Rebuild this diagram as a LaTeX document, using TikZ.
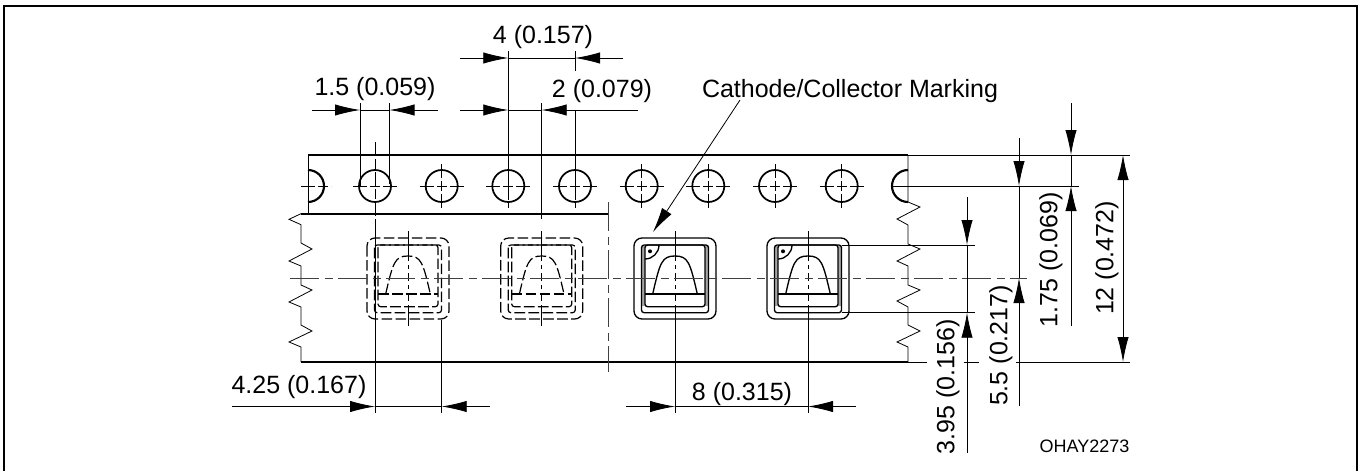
\documentclass[tikz,border=0pt]{standalone}
\usepackage{fontspec}
\setmainfont{Liberation Sans}
\usetikzlibrary{arrows.meta}

\tikzset{
	dimline/.style={line width=.6pt},
	dimarrow/.style={line width=.6pt,->,>={Latex[length=18.75pt,width=8.5pt]}},
	tapeline/.style={line width=1.4pt},
	midline/.style={line width=.7pt,color=black!75,dash pattern=on 22pt off 4pt on 6pt off 4pt},
	holeline/.style={line width=.6pt,dash pattern=on 10.5pt off 2.25pt on 7.5pt off 2.25pt},
	hole/.style={circle,draw,line width=1.3pt,inner sep=0pt,minimum size=24pt},
	label/.style={font=\fontsize{18.75}{22}\selectfont,inner sep=0pt},
	smalllabel/.style={font=\fontsize{13.5}{16}\selectfont,inner sep=0pt},
	hidden/.style={line width=.9pt,dash pattern=on 8pt off 2.5pt},
	shown/.style={line width=1pt}
}

% one pocket of the tape, #1 = centre x, #2 = line style
\newcommand{\pocket}[2]{
	\begin{scope}[shift={(#1,0)}]
		\draw[#2,rounded corners=6pt] (-41,238) rectangle (41,319);
		\draw[#2,rounded corners=2pt] (-33.5,245) rectangle (33.5,312.7);
		\draw[#2,rounded corners=2pt] (-30,245) rectangle (30,306.7);
		\draw[#2] (-30,294) -- (30,294);
		\draw[#2] (-22.3,294) .. controls (-15,262) and (-13,256) .. (0,256) .. controls (13,256) and (15,262) .. (22.3,294);
		\draw[dimline] (0,231) -- (0,253);
		\draw[dimline,dash pattern=on 6pt off 3pt on 3pt off 3pt] (0,253) -- (0,305);
	\end{scope}
}
% corner mark and side bands of the pockets seen from above
\newcommand{\pocketmark}[1]{
	\begin{scope}[shift={(#1,0)}]
		\fill[gray!70] (-33.5,246) rectangle (-30,306);
		\fill[gray!70] (30,246) rectangle (33.5,306);
		\draw[shown] (-16,245) arc (0:90:14);
		\fill (-25,251.3) circle (1.5pt);
	\end{scope}
}

\begin{document}
\begin{tikzpicture}[x=.75pt,y=-.75pt]
	\useasboundingbox (0,0) rectangle (1363,471);
	\draw[line width=1.5pt] (4.3,471) -- (4.3,5.8) -- (1356.7,5.8) -- (1356.7,471);

	% tape outline
	\draw[tapeline] (308,155) -- (908,155);
	\draw[tapeline] (301,213.7) -- (608,213.7);
	\draw[tapeline] (301,362) -- (908,362);
	\draw[dimline] (308,155) -- (308,213.7);
	\draw[dimline] (301,213.7) -- (289,219.3) -- (301,224.7) -- (301,243) -- (312,249) -- (289,261) -- (301,266) -- (301,285) -- (312,290) -- (289,302) -- (301,307) -- (301,325) -- (312,331) -- (289,342) -- (301,347) -- (301,362);
	\draw[dimline] (908,155) -- (908,202) -- (920,207) -- (897,219) -- (908,225) -- (908,244) -- (920,249) -- (897,261) -- (908,266) -- (908,285) -- (920,290) -- (897,301) -- (908,307) -- (908,325) -- (920,331) -- (897,342) -- (908,347) -- (908,362);

	% sprocket holes
	\node[hole](h1) at (375,186) {};
	\node[hole](h2) at (441.7,186) {};
	\node[hole](h3) at (508.3,186) {};
	\node[hole](h4) at (575,186) {};
	\node[hole](h5) at (641.7,186) {};
	\node[hole](h6) at (708.3,186) {};
	\node[hole](h7) at (775,186) {};
	\node[hole](h8) at (841.7,186) {};
	\draw[line width=1.6pt] (308,170) arc (-90:90:16);
	\draw[line width=1.6pt] (908,170) arc (-90:-270:16);

	\draw[holeline] (301,186) -- (331,186);
	\draw[holeline] (353,186) -- (397,186);
	\draw[holeline] (419.7,186) -- (463.7,186);
	\draw[holeline] (486.3,186) -- (530.3,186);
	\draw[holeline] (553,186) -- (597,186);
	\draw[holeline] (619.7,186) -- (663.7,186);
	\draw[holeline] (686.3,186) -- (730.3,186);
	\draw[holeline] (753,186) -- (797,186);
	\draw[holeline] (819.7,186) -- (863.7,186);
	\draw[holeline] (441.7,164) -- (441.7,208);
	\draw[holeline] (508.3,186) -- (508.3,208);
	\draw[holeline] (575,186) -- (575,208);
	\draw[holeline] (641.7,164) -- (641.7,208);
	\draw[holeline] (708.3,164) -- (708.3,208);
	\draw[holeline] (775,164) -- (775,208);
	\draw[holeline] (841.7,164) -- (841.7,208);

	% pockets
	\pocket{408}{hidden}
	\pocket{541.7}{hidden}
	\pocketmark{675}
	\pocket{675}{shown}
	\pocketmark{808}
	\pocket{808}{shown}
	\draw[dimline] (408,305) -- (408,326);
	\draw[dimline] (541.7,305) -- (541.7,326);

	% centre lines
	\draw[midline] (290,278) -- (1027,278);
	\draw[midline] (608,202) -- (608,372);
	\draw[holeline] (375,142) -- (375,227);

	% 1.5 (0.059)
	\coordinate(a1) at (360,110);
	\coordinate(a2) at (389.5,110);
	\coordinate(a3) at (312,110);
	\coordinate(a4) at (438,110);
	\draw[dimline] (360,103) -- (360,186);
	\draw[dimline] (389.5,103) -- (389.5,184);
	\draw[dimarrow] (a3) -- (a1);
	\draw[dimarrow] (a4) -- (a2);
	\draw[dimline] (a1) -- (a2);
	\node[label](t1) at (375,89) {1.5 (0.059)};

	% 4 (0.157)
	\coordinate(b1) at (508.3,58);
	\coordinate(b2) at (575,58);
	\coordinate(b3) at (460,58);
	\coordinate(b4) at (623,58);
	\draw[dimline] (508.3,51) -- (h3.center);
	\draw[dimline] (575,51) -- (575,71);
	\draw[dimarrow] (b3) -- (b1);
	\draw[dimarrow] (b4) -- (b2);
	\draw[dimline] (b1) -- (b2);
	\node[label](t2) at (543,37) {4 (0.157)};

	% 2 (0.079)
	\coordinate(c1) at (508.3,110);
	\coordinate(c2) at (541.7,110);
	\coordinate(c3) at (460,110);
	\coordinate(c4) at (638,110);
	\draw[dimline] (541.7,103) -- (541.7,219);
	\draw[dimline] (575,110) -- (h4.center);
	\draw[dimarrow] (c3) -- (c1);
	\draw[dimarrow] (c4) -- (c2);
	\draw[dimline] (c1) -- (c2);
	\node[label](t3) at (602,91) {2 (0.079)};

	% marking
	\node[label](t4) at (850,91) {Cathode/Collector Marking};
	\coordinate(m1) at (740,100);
	\coordinate(m2) at (653,232);
	\draw[dimarrow] (m1) -- (m2);

	% 4.25 (0.167)
	\coordinate(d1) at (375,406.5);
	\coordinate(d2) at (441.7,406.5);
	\coordinate(d3) at (232,406.5);
	\coordinate(d4) at (490,406.5);
	\draw[dimline] (375,227) -- (375,413);
	\draw[dimline] (441.7,320) -- (441.7,413);
	\draw[dimarrow] (d3) -- (d1);
	\draw[dimarrow] (d4) -- (d2);
	\draw[dimline] (d1) -- (d2);
	\node[label](t5) at (299,387) {4.25 (0.167)};

	% 8 (0.315)
	\coordinate(e1) at (675,406.5);
	\coordinate(e2) at (808,406.5);
	\coordinate(e3) at (626,406.5);
	\coordinate(e4) at (856,406.5);
	\draw[dimline] (675,305) -- (675,413);
	\draw[dimline] (808,305) -- (808,413);
	\draw[dimarrow] (e3) -- (e1);
	\draw[dimarrow] (e4) -- (e2);
	\draw[dimline] (e1) -- (e2);
	\node[label](t6) at (742,394) {8 (0.315)};

	% right side
	\draw[dimline] (908,155) -- (1130,155);
	\draw[dimline] (892,186) -- (1079,186);
	\draw[dimline] (908,362) -- (927,362);
	\draw[dimline] (964,362) -- (979,362);
	\draw[dimline] (1016,362) -- (1130,362);
	\draw[dimline] (841.5,245) -- (975,245);
	\draw[dimline] (841.5,312.7) -- (975,312.7);

	% 1.75 (0.069)
	\coordinate(f1) at (1071,155);
	\coordinate(f2) at (1071,186);
	\coordinate(f3) at (1071,103);
	\coordinate(f4) at (1071,326);
	\draw[dimarrow] (f3) -- (f1);
	\draw[dimarrow] (f4) -- (f2);
	\draw[dimline] (f1) -- (f2);
	\node[label,rotate=90](t7) at (1051,260) {1.75 (0.069)};

	% 12 (0.472)
	\coordinate(g1) at (1123,155);
	\coordinate(g2) at (1123,362);
	\coordinate(g3) at (1123,258);
	\draw[dimarrow] (g3) -- (g1);
	\draw[dimarrow] (g3) -- (g2);
	\node[label,rotate=90](t8) at (1107,258) {12 (0.472)};

	% 5.5 (0.217)
	\coordinate(i1) at (1019,186);
	\coordinate(i2) at (1019,278);
	\coordinate(i3) at (1019,138);
	\coordinate(i4) at (1019,406);
	\draw[dimarrow] (i3) -- (i1);
	\draw[dimarrow] (i4) -- (i2);
	\draw[dimline] (i1) -- (i2);
	\node[label,rotate=90](t9) at (1001,345.5) {5.5 (0.217)};

	% 3.95 (0.156)
	\coordinate(j1) at (967,245);
	\coordinate(j2) at (967,312.7);
	\coordinate(j3) at (967,197);
	\coordinate(j4) at (967,453);
	\draw[dimarrow] (j3) -- (j1);
	\draw[dimarrow] (j4) -- (j2);
	\draw[dimline] (j1) -- (j2);
	\node[label,rotate=90](t10) at (948,387) {3.95 (0.156)};

	\node[smalllabel](t11) at (1084.5,446) {OHAY2273};
\end{tikzpicture}
\end{document}
